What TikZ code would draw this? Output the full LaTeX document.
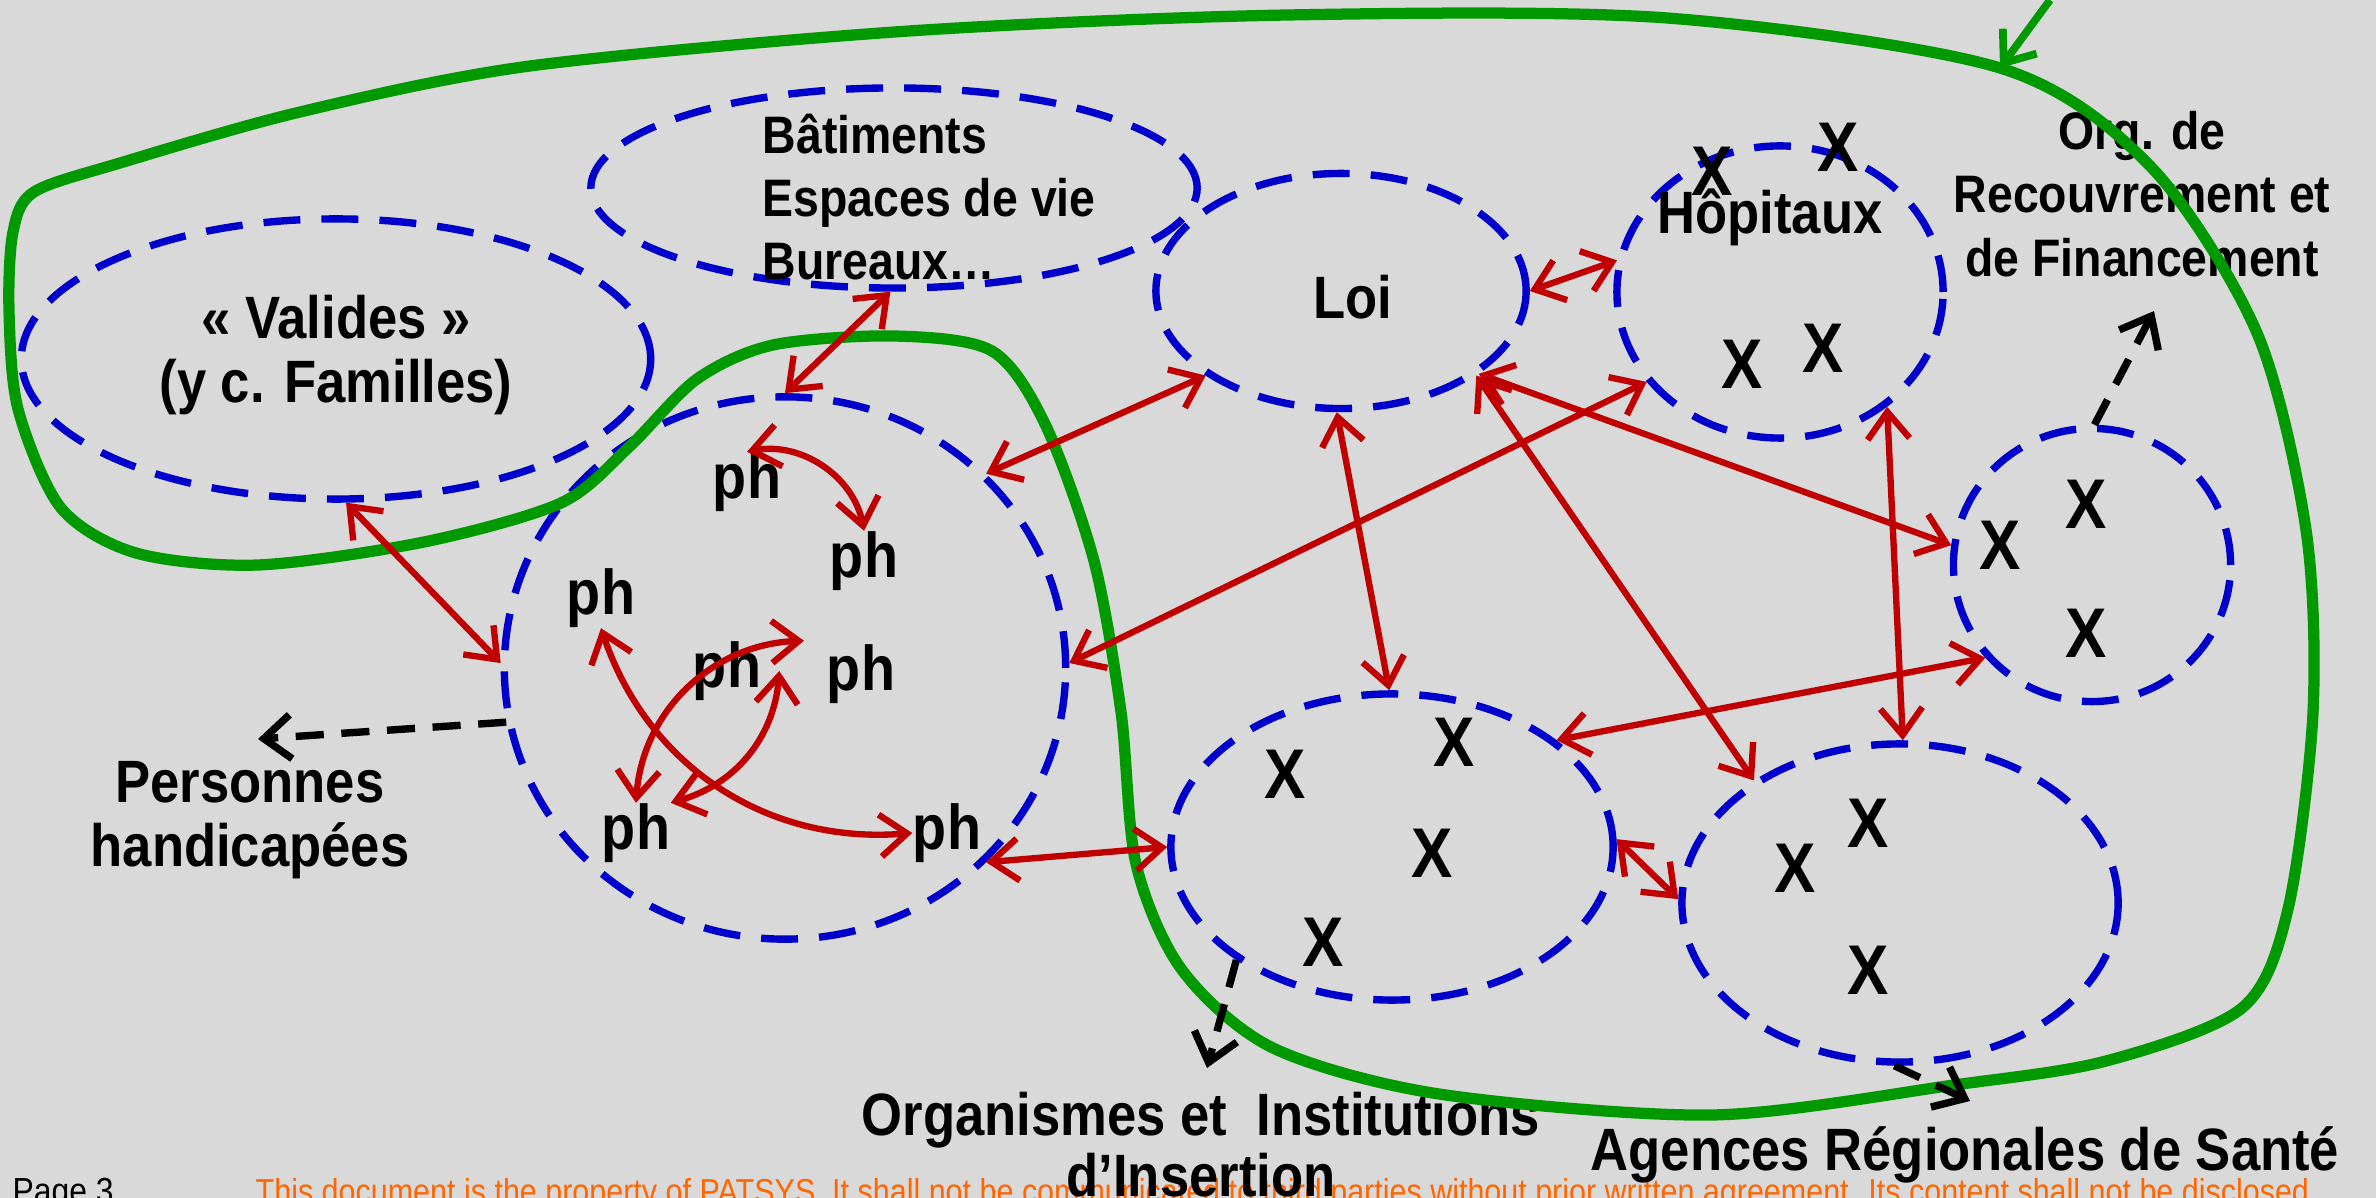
\documentclass[tikz,border=0pt]{standalone}
\usepackage{fontspec}
\setmainfont{Liberation Sans}[FakeStretch=0.88]
\usepackage{xcolor}
\usepackage{tikz}
\usetikzlibrary{shapes,arrows.meta}

\definecolor{bgGray}{HTML}{D9D9D9}
\definecolor{zoneBlue}{HTML}{0000CC}
\definecolor{linkRed}{HTML}{C00000}
\definecolor{hullGreen}{HTML}{009900}
\definecolor{footOrange}{HTML}{FF6600}

\begin{document}
\begin{tikzpicture}[x=0.01cm, y=-0.01cm,
  zone/.style={ellipse, draw=zoneBlue, line width=2.1pt, dash pattern=on 10.5pt off 6pt, inner sep=0},
  link/.style={{Straight Barb[length=2.7mm,width=4.2mm]}-{Straight Barb[length=2.7mm,width=4.2mm]}, draw=linkRed, line width=1.8pt},
  outlink/.style={-{Straight Barb[length=2.7mm,width=4.4mm]}, draw=black, line width=2.1pt, dash pattern=on 8pt off 5pt},
  txt/.style={align=center, inner sep=0, font=\fontsize{17}{18}\selectfont\bfseries},
  smalltxt/.style={txt, font=\fontsize{15}{18}\selectfont\bfseries},
  ph/.style={inner sep=0, font=\fontsize{18}{20}\selectfont\bfseries},
  cross/.style={inner sep=0, font=\fontsize{20}{22}\selectfont\bfseries}]

  \fill[bgGray] (0,0) rectangle (2376,1198);
  \useasboundingbox (0,0) rectangle (2376,1198);

  % footer
  \node[anchor=base west, inner sep=0, font=\fontsize{10.3}{12}\selectfont] (pageNo) at (12,1203) {Page 3};
  \node[anchor=base west, inner sep=0, text=footOrange, font=\fontsize{9.85}{11}\selectfont] (footNote) at (255,1203) {This document is the property of PATSYS. It shall not be communicated to third parties without prior written agreement. Its content shall not be disclosed.};

  \node[zone, minimum width=6.29cm, minimum height=2.80cm] (setValides)   at (336,359)  {};
  \node[zone, minimum width=6.06cm, minimum height=2.00cm] (setBatiments) at (894,188)  {};
  \node[zone, minimum width=3.70cm, minimum height=2.35cm] (setLoi)       at (1341,291) {};
  \node[zone, minimum width=3.26cm, minimum height=2.92cm] (setHopitaux)  at (1780,292) {};
  \node[zone, minimum width=2.77cm, minimum height=2.73cm] (setOrg)       at (2092,565) {};
  \node[zone, minimum width=5.61cm, minimum height=5.42cm] (setPh)        at (785,668)  {};
  \node[zone, minimum width=4.42cm, minimum height=3.06cm] (setInsertion) at (1392,847) {};
  \node[zone, minimum width=4.36cm, minimum height=3.18cm] (setArs)       at (1900,903) {};

  \node[txt]      (txtValides)   at (336,355)  {«~Valides~»\\(y c. Familles)};
  \node[smalltxt, align=left, anchor=west] (txtBatiments) at (762,197) {Bâtiments\\Espaces de vie\\Bureaux…};
  \node[txt]      (txtLoi)       at (1353,297) {Loi};
  \node[txt]      (txtHopitaux)  at (1770,217) {Hôpitaux};
  \node[smalltxt] (txtOrg)       at (2142,194) {Org. de\\Recouvrement et\\de Financement};
  \node[txt]      (txtPersonnes) at (250,820)  {Personnes\\handicapées};
  \node[txt, anchor=north, font=\fontsize{17}{17.6}\selectfont\bfseries] (txtInsertion) at (1201,1091) {Organismes et~ Institutions\\d’Insertion};
  \node[txt, anchor=base] (txtArs) at (1965,1170) {Agences Régionales de Santé};

  \node[ph] (phA) at (747,482) {ph};
  \node[ph] (phB) at (864,561) {ph};
  \node[ph] (phC) at (601,598) {ph};
  \node[ph] (phD) at (727,671) {ph};
  \node[ph] (phE) at (861,674) {ph};
  \node[ph] (phF) at (636,833) {ph};
  \node[ph] (phG) at (947,833) {ph};

  \node[cross] (hopA) at (1712,171) {X};
  \node[cross] (hopB) at (1838,147) {X};
  \node[cross] (hopC) at (1742,364) {X};
  \node[cross] (hopD) at (1823,348) {X};
  \node[cross] (orgA) at (2000,545) {X};
  \node[cross] (orgB) at (2086,504) {X};
  \node[cross] (orgC) at (2086,633) {X};
  \node[cross] (insA) at (1285,774) {X};
  \node[cross] (insB) at (1454,742) {X};
  \node[cross] (insC) at (1432,853) {X};
  \node[cross] (insD) at (1323,942) {X};
  \node[cross] (arsA) at (1868,823) {X};
  \node[cross] (arsB) at (1795,868) {X};
  \node[cross] (arsC) at (1868,970) {X};

  % green hull
  \draw[hullGreen, line width=3.2pt] plot[smooth cycle, tension=0.5] coordinates {
    (34,192) (120,163) (300,112) (530,66) (909,31) (1288,15) (1667,18) (2000,68) (2151,167)
    (2257,333) (2306,530) (2313,712) (2288,909) (2242,1008) (2106,1061) (1954,1085)
    (1712,1115) (1439,1094) (1273,1048) (1182,970) (1136,864) (1121,712) (1094,561)
    (1045,424) (992,351) (894,336) (773,345) (697,379) (629,447) (561,503) (424,542)
    (258,565) (136,553) (61,508) (18,409) (9,310) (13,232)};
  \coordinate (hullFrom) at (2050,0);
  \coordinate (hullTip)  at (2000,68);
  \draw[-{Straight Barb[length=2.7mm,width=4.2mm]}, hullGreen, line width=2.2pt] (hullFrom) -- (hullTip);

  \draw[link] (setValides.-86)   -- (setPh.179);
  \draw[link] (setBatiments.-92) -- (setPh.90);
  \draw[link] (setLoi.-148)      -- (setPh.44);
  \draw[link] (setLoi.0)         -- (setHopitaux.169);
  \draw[link] (setHopitaux.-146) -- (setPh.1);
  \draw[link] (setLoi.-92)       -- (setInsertion.91);
  \draw[link] (setLoi.-31)       -- (setOrg.172);
  \draw[link] (setLoi.-32)       -- (setArs.140);
  \draw[link] (setHopitaux.-47)  -- (setArs.89);
  \draw[link] (setOrg.-139)      -- (setInsertion.33);
  \draw[link] (setPh.-44)        -- (setInsertion.180);
  \draw[link] (setInsertion.2)   -- (setArs.179);

  \draw[link] (phA.north) to[bend left=45]  (phB.north);
  \draw[link] (phC.south) to[bend right=38] (phG.west);
  \draw[link] (phF.north) to[bend left=42]  ([xshift=12pt]phD.north east);
  \draw[link] (phF.north east) to[bend right=35] ([xshift=5pt]phD.east);

  \coordinate (toPersonnes) at (258,739);
  \coordinate (toInsertion) at (1207,1068);
  \coordinate (toArs)       at (1970,1101);
  \coordinate (toOrg)       at (2154,311);
  \draw[outlink] (setPh.-169)        -- (toPersonnes);
  \draw[outlink] (setInsertion.-144) -- (toInsertion);
  \draw[outlink] (setArs.-92)        -- (toArs);
  \draw[outlink] (setOrg.89)         -- (toOrg);
\end{tikzpicture}
\end{document}
